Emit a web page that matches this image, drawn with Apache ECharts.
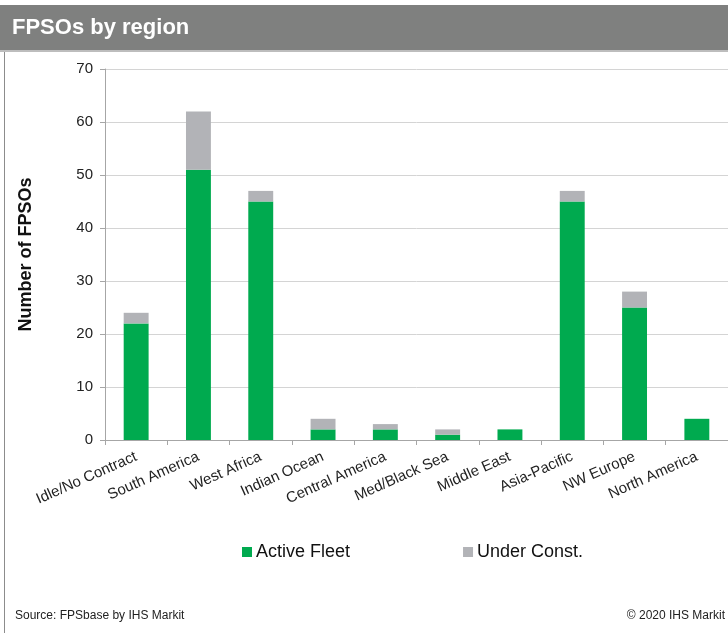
<!DOCTYPE html>
<html>
<head>
<meta charset="utf-8">
<script src="https://cdn.jsdelivr.net/npm/echarts@6/dist/echarts.min.js"></script>
<style>
  html, body { margin: 0; padding: 0; background: #ffffff; }
  #chart { width: 728px; height: 633px; }
</style>
</head>
<body>
<div id="chart"></div>
<script>
// FPSO counts per region: operating units and units under construction
const regions = ['Idle/No Contract', 'South America', 'West Africa', 'Indian Ocean', 'Central America',
                 'Med/Black Sea', 'Middle East', 'Asia-Pacific', 'NW Europe', 'North America'];
const activeFleet = [22, 51, 45, 2, 2, 1, 2, 45, 25, 4];
const underConst = [2, 11, 2, 2, 1, 1, 0, 2, 3, 0];
const yTicks = [0, 10, 20, 30, 40, 50, 60, 70];

const FONT = '"Liberation Sans", Arial, sans-serif';
const chart = echarts.init(document.getElementById('chart'), null, { renderer: 'canvas' });

chart.setOption({
  animation: false,
  backgroundColor: '#ffffff',
  textStyle: { fontFamily: FONT },
  graphic: [
    // title band
    { type: 'rect', left: 0, top: 5, shape: { width: 728, height: 45 }, style: { fill: '#7f807f' }, z: 0 },
    { type: 'rect', left: 0, top: 50, shape: { width: 728, height: 2 }, style: { fill: '#bdbdbd' }, z: 0 },
    { type: 'text', left: 12, top: 17, style: { text: 'FPSOs by region', fill: '#ffffff',
        font: 'bold 22px ' + FONT } },
    // left frame line
    { type: 'rect', left: 4, top: 52, shape: { width: 1, height: 581 }, style: { fill: '#8c8c8c' } },
    // footer
    { type: 'text', left: 15, top: 610, style: { text: 'Source: FPSbase by IHS Markit', fill: '#222222',
        font: '12px ' + FONT } },
    { type: 'text', right: 3, top: 610, style: { text: '\u00a9 2020 IHS Markit', fill: '#222222',
        font: '12px ' + FONT } }
  ],
  legend: {
    top: 538,
    left: 237,
    itemGap: 113,
    itemWidth: 10,
    itemHeight: 10,
    icon: 'rect',
    textStyle: { fontSize: 18, color: '#111111', fontFamily: FONT, padding: [0, 0, 0, -1] },
    data: ['Active Fleet', 'Under Const.']
  },
  grid: { left: 105, right: -2, top: 69, bottom: 193, containLabel: false },
  xAxis: {
    type: 'category',
    data: regions,
    boundaryGap: true,
    axisLine: { lineStyle: { color: '#a6a6a6', width: 1 } },
    axisTick: { show: true, length: 5, lineStyle: { color: '#a6a6a6' } },
    axisLabel: { rotate: 24, interval: 0, fontSize: 15, color: '#222222', fontFamily: FONT, margin: 16 }
  },
  yAxis: {
    type: 'value',
    min: yTicks[0],
    max: yTicks[yTicks.length - 1],
    interval: 10,
    name: 'Number of FPSOs',
    nameLocation: 'middle',
    nameGap: 70,
    nameRotate: 90,
    nameTextStyle: { fontSize: 18, fontWeight: 'bold', color: '#111111', fontFamily: FONT },
    axisLine: { show: true, lineStyle: { color: '#a6a6a6' } },
    axisTick: { show: true, length: 5, inside: false, lineStyle: { color: '#a6a6a6' } },
    axisLabel: { fontSize: 15, color: '#222222', fontFamily: FONT, margin: 12 },
    splitLine: { lineStyle: { color: '#d4d4d4', width: 1 } }
  },
  series: [
    {
      name: 'Active Fleet', type: 'bar', stack: 'fleet', data: activeFleet,
      barWidth: '40%',
      itemStyle: { color: '#00aa4f' }
    },
    {
      name: 'Under Const.', type: 'bar', stack: 'fleet', data: underConst,
      barWidth: '40%',
      itemStyle: { color: '#b2b3b7' }
    }
  ]
});
</script>
</body>
</html>
